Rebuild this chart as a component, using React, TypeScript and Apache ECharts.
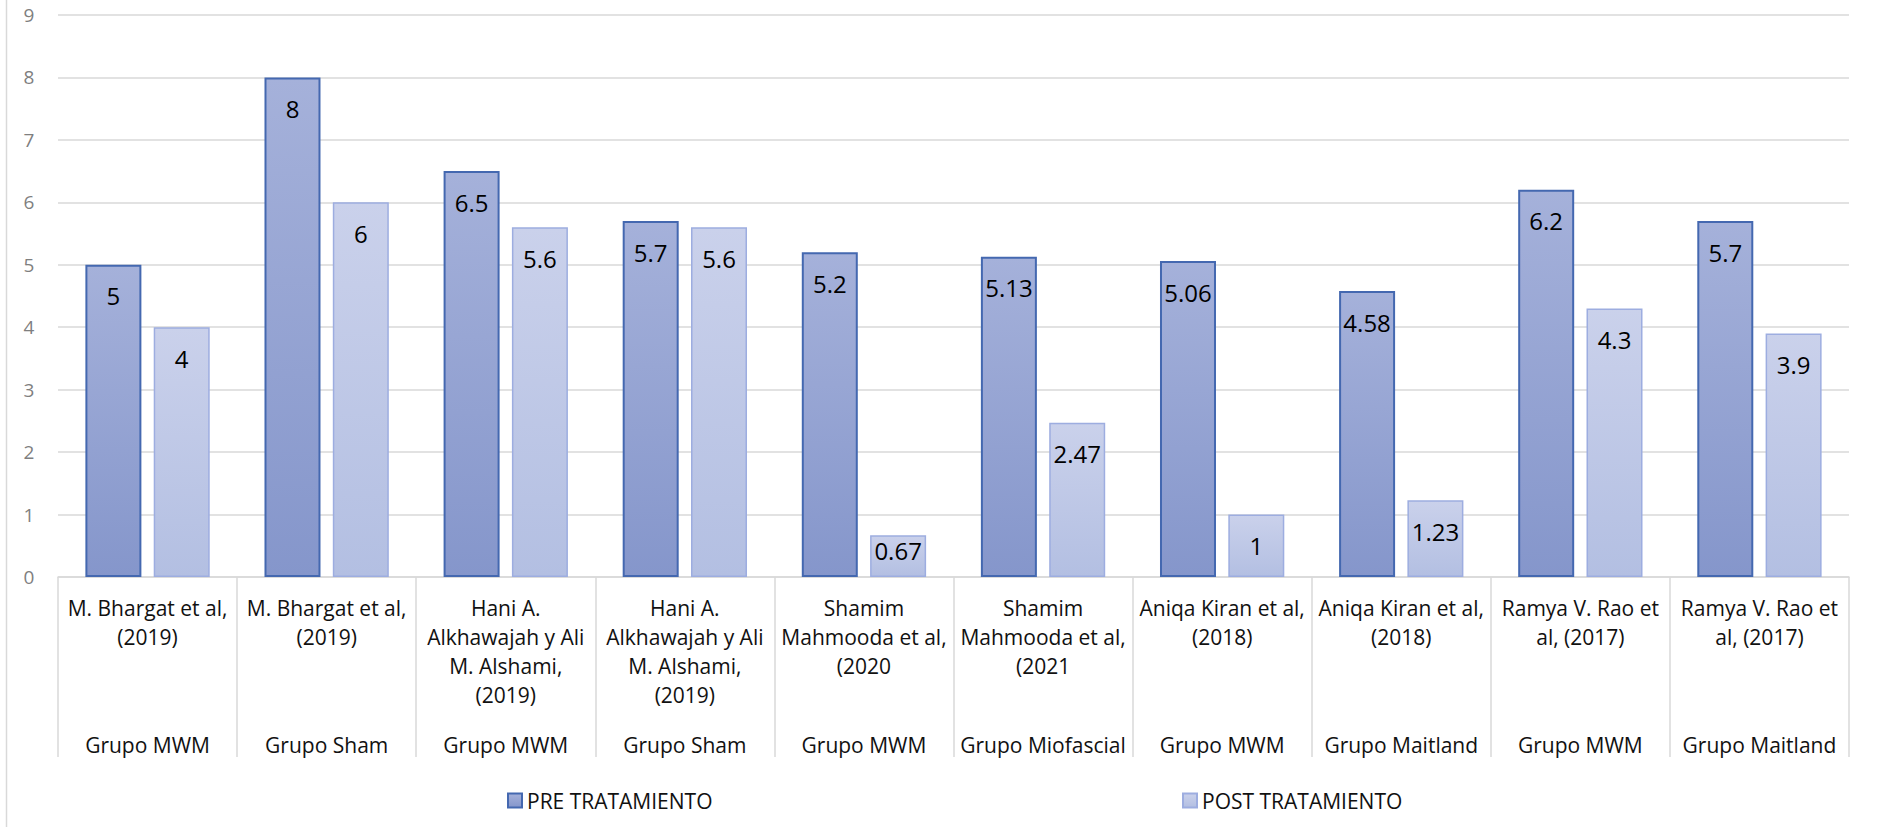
import React, { useEffect, useRef } from "react";
import * as echarts from "echarts";

const studies: string[] = [
  "M. Bhargat et al,\n(2019)",
  "M. Bhargat et al,\n(2019)",
  "Hani A.\nAlkhawajah y Ali\nM. Alshami,\n(2019)",
  "Hani A.\nAlkhawajah y Ali\nM. Alshami,\n(2019)",
  "Shamim\nMahmooda et al,\n(2020",
  "Shamim\nMahmooda et al,\n(2021",
  "Aniqa Kiran et al,\n(2018)",
  "Aniqa Kiran et al,\n(2018)",
  "Ramya V. Rao et\nal, (2017)",
  "Ramya V. Rao et\nal, (2017)",
];

const groups: string[] = [
  "Grupo MWM",
  "Grupo Sham",
  "Grupo MWM",
  "Grupo Sham",
  "Grupo MWM",
  "Grupo Miofascial",
  "Grupo MWM",
  "Grupo Maitland",
  "Grupo MWM",
  "Grupo Maitland",
];

const preValues: number[] = [5, 8, 6.5, 5.7, 5.2, 5.13, 5.06, 4.58, 6.2, 5.7];
const postValues: number[] = [4, 6, 5.6, 5.6, 0.67, 2.47, 1, 1.23, 4.3, 3.9];

const seriesNames: string[] = ["PRE TRATAMIENTO", "POST TRATAMIENTO"];

const FONT = "'Open Sans', 'Noto Sans', sans-serif";

function grad(top: string, bottom: string) {
  return new echarts.graphic.LinearGradient(0, 0, 0, 1, [
    { offset: 0, color: top },
    { offset: 1, color: bottom },
  ]);
}

export default function App() {
  const ref = useRef<HTMLDivElement>(null);

  useEffect(() => {
    if (!ref.current) return;
    const chart = echarts.init(ref.current, undefined, { renderer: "svg" });

    const labelCfg = {
      show: true,
      position: "insideTop",
      distance: 19,
      color: "#000000",
      fontSize: 24,
      fontFamily: FONT,
    };

    const mapData = (vals: number[]) =>
      vals.map((v) =>
        v < 1
          ? { value: v, label: { position: "insideTop", distance: 3 } }
          : v
      );

    chart.setOption({
      animation: false,
      backgroundColor: "#ffffff",
      grid: {
        left: 58,
        right: 28,
        top: 15,
        bottom: 250,
        containLabel: false,
        outerBoundsMode: "none",
      },
      xAxis: [
        {
          type: "category",
          data: studies,
          position: "bottom",
          axisLine: { show: true, lineStyle: { color: "#d9d9d9", width: 1.5 } },
          axisTick: {
            show: true,
            interval: 0,
            length: 180,
            lineStyle: { color: "#d9d9d9", width: 1.5 },
          },
          axisLabel: {
            interval: 0,
            margin: 16,
            color: "#111111",
            fontSize: 21,
            lineHeight: 29,
            fontFamily: FONT,
            verticalAlign: "top",
          },
        },
        {
          type: "category",
          data: groups,
          position: "bottom",
          offset: 141,
          axisLine: { show: false },
          axisTick: { show: false },
          axisLabel: {
            interval: 0,
            margin: 12,
            color: "#111111",
            fontSize: 21,
            lineHeight: 29,
            fontFamily: FONT,
            verticalAlign: "top",
          },
        },
      ],
      yAxis: {
        type: "value",
        min: 0,
        max: 9,
        interval: 1,
        axisLine: { show: false },
        axisTick: { show: false },
        axisLabel: {
          margin: 29,
          align: "center",
          color: "#7f7f7f",
          fontSize: 19,
          fontFamily: FONT,
        },
        splitLine: { lineStyle: { color: "#d9d9d9", width: 1.5 } },
      },
      legend: [
        {
          data: [seriesNames[0]],
          left: 502,
          top: 785,
          icon: "rect",
          itemWidth: 14,
          itemHeight: 14,
          textStyle: { color: "#111111", fontSize: 21, fontFamily: FONT },
          selectedMode: false,
        },
        {
          data: [seriesNames[1]],
          left: 1177,
          top: 785,
          icon: "rect",
          itemWidth: 14,
          itemHeight: 14,
          textStyle: { color: "#111111", fontSize: 21, fontFamily: FONT },
          selectedMode: false,
        },
      ],
      series: [
        {
          name: seriesNames[0],
          type: "bar",
          xAxisIndex: 0,
          data: mapData(preValues),
          barWidth: 56,
          barGap: "22%",
          itemStyle: {
            color: grad("#a5b1da", "#8596cb"),
            borderColor: "#4468b0",
            borderWidth: 2,
          },
          label: labelCfg,
        },
        {
          name: seriesNames[1],
          type: "bar",
          xAxisIndex: 0,
          data: mapData(postValues),
          barWidth: 56,
          itemStyle: {
            color: grad("#cad1eb", "#b3bfe2"),
            borderColor: "#9dade0",
            borderWidth: 1.5,
          },
          label: labelCfg,
        },
      ],
      graphic: [
        {
          type: "line",
          shape: { x1: 6.5, y1: 0, x2: 6.5, y2: 827 },
          style: { stroke: "#d9d9d9", lineWidth: 1.5 },
          silent: true,
        },
      ],
    });

    return () => chart.dispose();
  }, []);

  return (
    <div
      ref={ref}
      style={{ position: "fixed", left: 0, top: 0, width: 1877, height: 827 }}
    />
  );
}
